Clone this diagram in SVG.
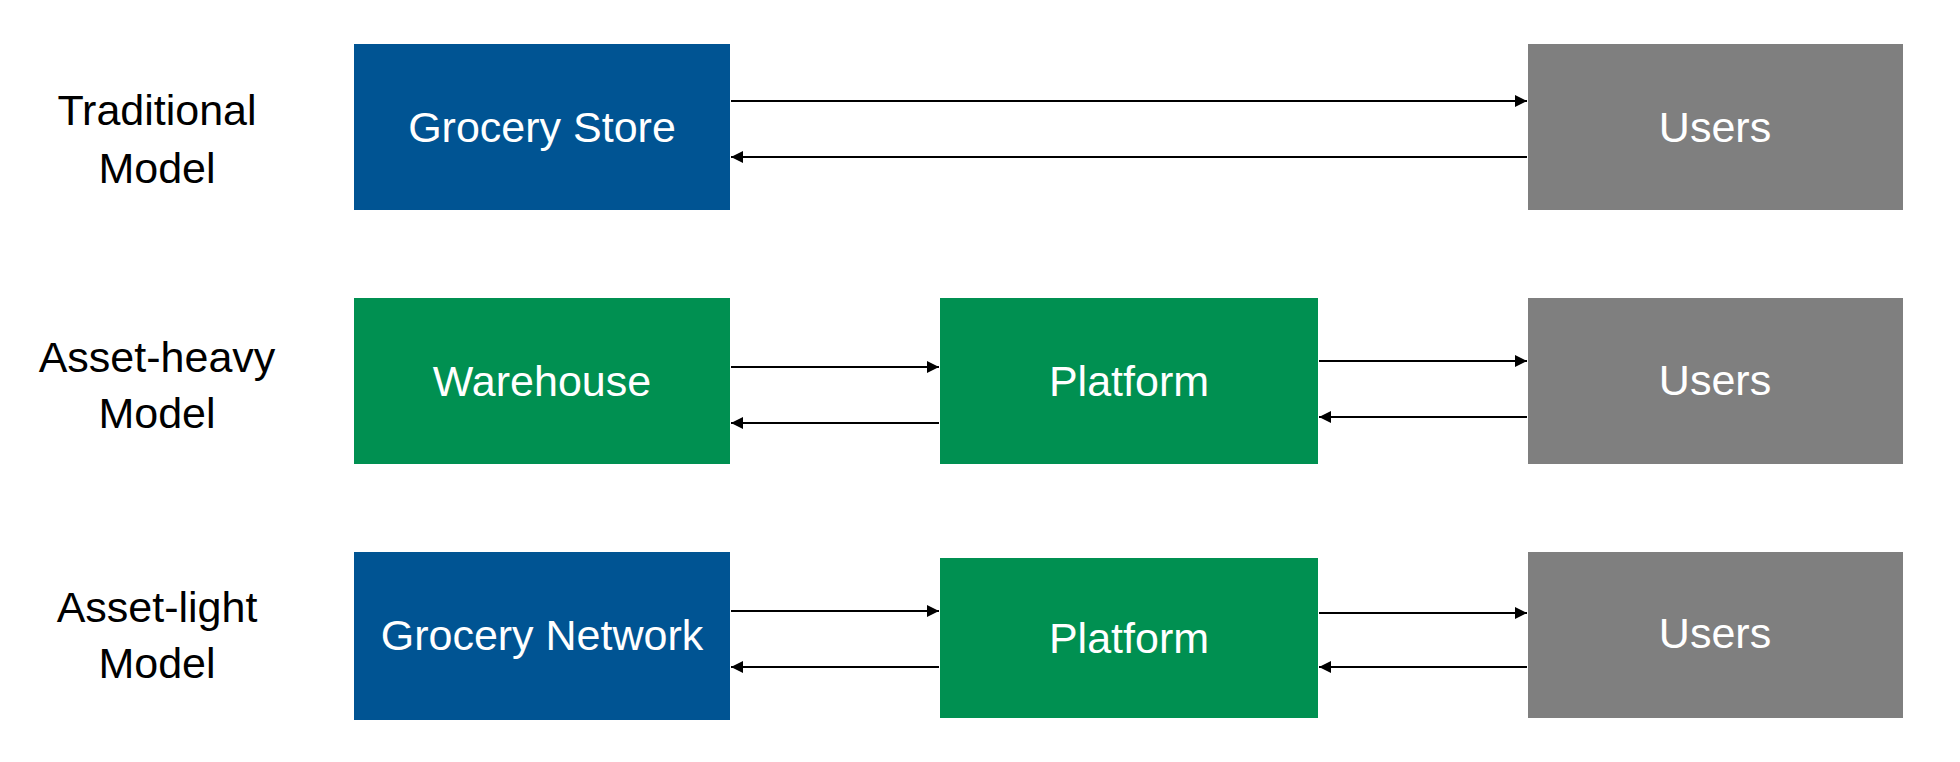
<svg xmlns="http://www.w3.org/2000/svg" width="1960" height="762" viewBox="0 0 1960 762">
<style>
.lbl{font-family:"Liberation Sans",Arial,sans-serif;font-size:43px;fill:#000;text-anchor:middle}
.txt{font-family:"Liberation Sans",Arial,sans-serif;font-size:43px;fill:#fff;text-anchor:middle}
.blue{fill:#005493}
.green{fill:#009051}
.gray{fill:#7f7f7f}
.conn{stroke:#000;stroke-width:2.2;fill:none;marker-end:url(#ah)}
</style>
<defs>
<marker id="ah" markerUnits="userSpaceOnUse" markerWidth="14" markerHeight="14" viewBox="0 0 14 14" refX="13" refY="7" orient="auto">
<path d="M1,1 L13,7 L1,13 Z" fill="#000"/>
</marker>
</defs>
<rect width="1960" height="762" fill="#fff"/>
<g id="labels">
<text class="lbl" x="157" y="125">Traditional</text>
<text class="lbl" x="157" y="183">Model</text>
<text class="lbl" x="157" y="372">Asset-heavy</text>
<text class="lbl" x="157" y="428">Model</text>
<text class="lbl" x="157" y="622">Asset-light</text>
<text class="lbl" x="157" y="678">Model</text>
</g>
<g id="grocery-store"><rect class="blue" x="354" y="44" width="376" height="166"/><text class="txt" x="542" y="142">Grocery Store</text></g>
<g id="users-1"><rect class="gray" x="1528" y="44" width="375" height="166"/><text class="txt" x="1715" y="142">Users</text></g>
<g id="warehouse"><rect class="green" x="354" y="298" width="376" height="166"/><text class="txt" x="542" y="396">Warehouse</text></g>
<g id="platform-2"><rect class="green" x="940" y="298" width="378" height="166"/><text class="txt" x="1129" y="396">Platform</text></g>
<g id="users-2"><rect class="gray" x="1528" y="298" width="375" height="166"/><text class="txt" x="1715" y="395">Users</text></g>
<g id="grocery-network"><rect class="blue" x="354" y="552" width="376" height="168"/><text class="txt" x="542" y="650">Grocery Network</text></g>
<g id="platform-3"><rect class="green" x="940" y="558" width="378" height="160"/><text class="txt" x="1129" y="653">Platform</text></g>
<g id="users-3"><rect class="gray" x="1528" y="552" width="375" height="166"/><text class="txt" x="1715" y="648">Users</text></g>
<g id="connectors">
<line class="conn" x1="731" y1="101" x2="1527" y2="101"/>
<line class="conn" x1="1527" y1="157" x2="731" y2="157"/>
<line class="conn" x1="731" y1="367" x2="939" y2="367"/>
<line class="conn" x1="939" y1="423" x2="731" y2="423"/>
<line class="conn" x1="1319" y1="361" x2="1527" y2="361"/>
<line class="conn" x1="1527" y1="417" x2="1319" y2="417"/>
<line class="conn" x1="731" y1="611" x2="939" y2="611"/>
<line class="conn" x1="939" y1="667" x2="731" y2="667"/>
<line class="conn" x1="1319" y1="613" x2="1527" y2="613"/>
<line class="conn" x1="1527" y1="667" x2="1319" y2="667"/>
</g>
</svg>
